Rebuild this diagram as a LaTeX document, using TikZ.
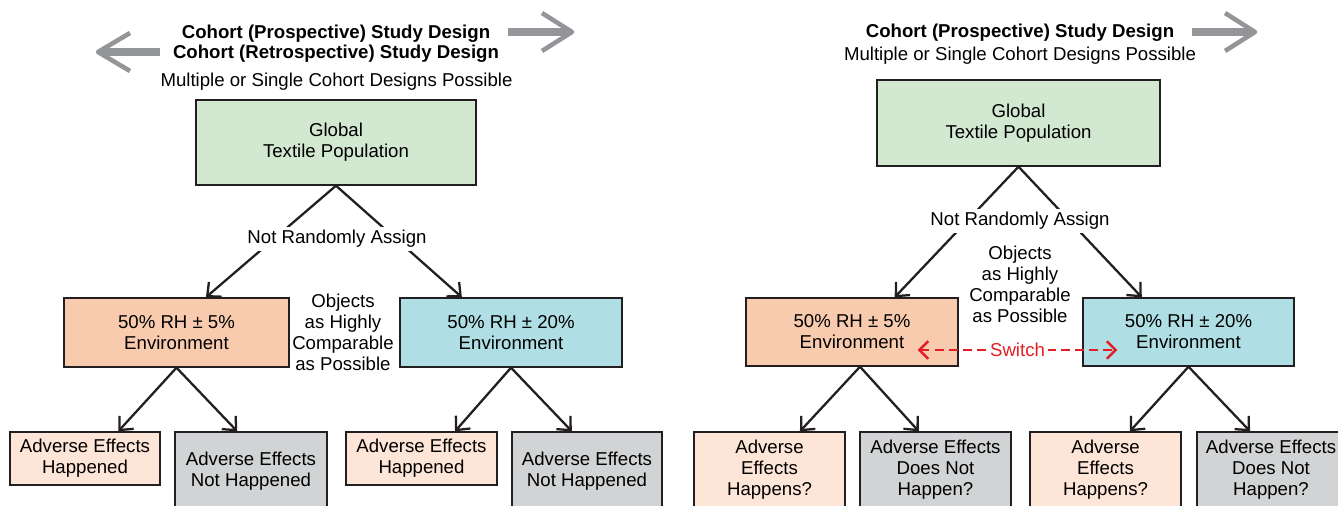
\documentclass[tikz,border=0pt]{standalone}
\usepackage{fontspec}
\setmainfont{Liberation Sans}
\usetikzlibrary{arrows.meta,calc}
\definecolor{edge}{HTML}{231F20}
\definecolor{popgreen}{HTML}{D2E8D1}
\definecolor{envpeach}{HTML}{F9CBAE}
\definecolor{envcyan}{HTML}{AFDFE4}
\definecolor{leafpeach}{HTML}{FDE5D7}
\definecolor{leafgray}{HTML}{D1D3D4}
\definecolor{arrowgray}{HTML}{939598}
\definecolor{switchred}{HTML}{E31E25}
\newcommand{\txtsize}{\fontsize{10.6}{12}\selectfont}

\begin{document}
\begin{tikzpicture}[x=0.02cm,y=-0.02cm,
  box/.style={draw=edge,line width=0.8pt,align=center,inner sep=0pt,font=\txtsize},
  txt/.style={align=center,inner sep=0pt,font=\txtsize},
  gap/.style={txt,fill=white,inner sep=2pt},
  conn/.style={draw=edge,line width=1.3pt,-{Straight Barb[length=6pt,width=11pt]}},
  bigshaft/.style={draw=arrowgray,line width=4pt},
  bighead/.style={draw=arrowgray,line width=2.6pt,line join=round}]
\useasboundingbox (0,0) rectangle (1338,506);

% left panel
\node[txt,font=\fontsize{10.6}{11.4}\selectfont\bfseries] (titleL) at (336,44) {Cohort (Prospective) Study Design\\Cohort (Retrospective) Study Design};
\node[txt] (multiL) at (336.5,82) {Multiple or Single Cohort Designs Possible};
\node[box,fill=popgreen,minimum width=5.6cm,minimum height=1.7cm] (popL) at (336,142.5) {Global\\Textile Population};
\node[box,fill=envpeach,minimum width=4.5cm,minimum height=1.38cm] (envLA) at (176.5,332.5) {50\% RH ± 5\%\\Environment};
\node[box,fill=envcyan,minimum width=4.44cm,minimum height=1.38cm] (envLB) at (511,332.5) {50\% RH ± 20\%\\Environment};
\node[box,fill=leafpeach,minimum width=3cm,minimum height=1.06cm] (leafLA) at (85,458.5) {Adverse Effects\\Happened};
\node[box,fill=leafgray,minimum width=3.04cm,minimum height=1.56cm] (leafLB) at (251,471) {Adverse Effects\\Not Happened};
\node[box,fill=leafpeach,minimum width=3.02cm,minimum height=1.06cm] (leafLC) at (421.5,458.5) {Adverse Effects\\Happened};
\node[box,fill=leafgray,minimum width=3cm,minimum height=1.56cm] (leafLD) at (587,471) {Adverse Effects\\Not Happened};
\node[txt] (objL) at (343,332) {Objects\\as Highly\\Comparable\\as Possible};

\draw[conn] (popL.south) -- ($(envLA.north west)!.63!(envLA.north east)$);
\draw[conn] (popL.south) -- ($(envLB.north west)!.28!(envLB.north east)$);
\draw[conn] (envLA.south) -- ($(leafLA.north west)!.72!(leafLA.north east)$);
\draw[conn] (envLA.south) -- ($(leafLB.north west)!.41!(leafLB.north east)$);
\draw[conn] (envLB.south) -- ($(leafLC.north west)!.72!(leafLC.north east)$);
\draw[conn] (envLB.south) -- ($(leafLD.north west)!.40!(leafLD.north east)$);
\node[gap] (assignL) at (337,239) {Not Randomly Assign};

\draw[bigshaft] (160,52) -- (102,52);
\draw[bighead] (130,33) -- (98,52) -- (130,71);
\draw[bigshaft] (508,32) -- (568,32);
\draw[bighead] (542,13) -- (572,32) -- (542,51);

% right panel
\node[txt,font=\txtsize\bfseries] (titleR) at (1020,33) {Cohort (Prospective) Study Design};
\node[txt] (multiR) at (1020,56) {Multiple or Single Cohort Designs Possible};
\node[box,fill=popgreen,minimum width=5.66cm,minimum height=1.72cm] (popR) at (1018.5,123) {Global\\Textile Population};
\node[box,fill=envpeach,minimum width=4.24cm,minimum height=1.36cm] (envRA) at (852,332) {50\% RH ± 5\%\\Environment};
\node[box,fill=envcyan,minimum width=4.22cm,minimum height=1.36cm] (envRB) at (1188.5,332) {50\% RH ± 20\%\\Environment};
\node[box,fill=leafpeach,minimum width=3.02cm,minimum height=1.52cm] (leafRA) at (769.5,470) {Adverse\\Effects\\Happens?};
\node[box,fill=leafgray,minimum width=3.02cm,minimum height=1.52cm] (leafRB) at (935.5,470) {Adverse Effects\\Does Not\\Happen?};
\node[box,fill=leafpeach,minimum width=3.02cm,minimum height=1.52cm] (leafRC) at (1105.5,470) {Adverse\\Effects\\Happens?};
\node[box,fill=leafgray,minimum width=2.96cm,minimum height=1.52cm] (leafRD) at (1271,470) {Adverse Effects\\Does Not\\Happen?};
\node[txt] (objR) at (1020,284) {Objects\\as Highly\\Comparable\\as Possible};

\draw[conn] (popR.south) -- ($(envRA.north west)!.70!(envRA.north east)$);
\draw[conn] (popR.south) -- ($(envRB.north west)!.28!(envRB.north east)$);
\draw[conn] ($(envRA.south)+(8,0)$) -- ($(leafRA.north west)!.70!(leafRA.north east)$);
\draw[conn] ($(envRA.south)+(8,0)$) -- ($(leafRB.north west)!.39!(leafRB.north east)$);
\draw[conn] (envRB.south) -- ($(leafRC.north west)!.66!(leafRC.north east)$);
\draw[conn] (envRB.south) -- ($(leafRD.north west)!.36!(leafRD.north east)$);
\node[gap] (assignR) at (1020,221) {Not Randomly Assign};

\draw[switchred,line width=1.4pt,dash pattern=on 5pt off 3pt,{Straight Barb[length=5pt,width=10pt]}-{Straight Barb[length=5pt,width=10pt]}]
  ($(envRA.east)+(-41,18)$) -- node[gap,text=switchred] (switch) {Switch} ($(envRB.west)+(35,18)$);

\draw[bigshaft] (1192,32) -- (1251,32);
\draw[bighead] (1225,13) -- (1255,32) -- (1225,51);
\end{tikzpicture}
\end{document}
